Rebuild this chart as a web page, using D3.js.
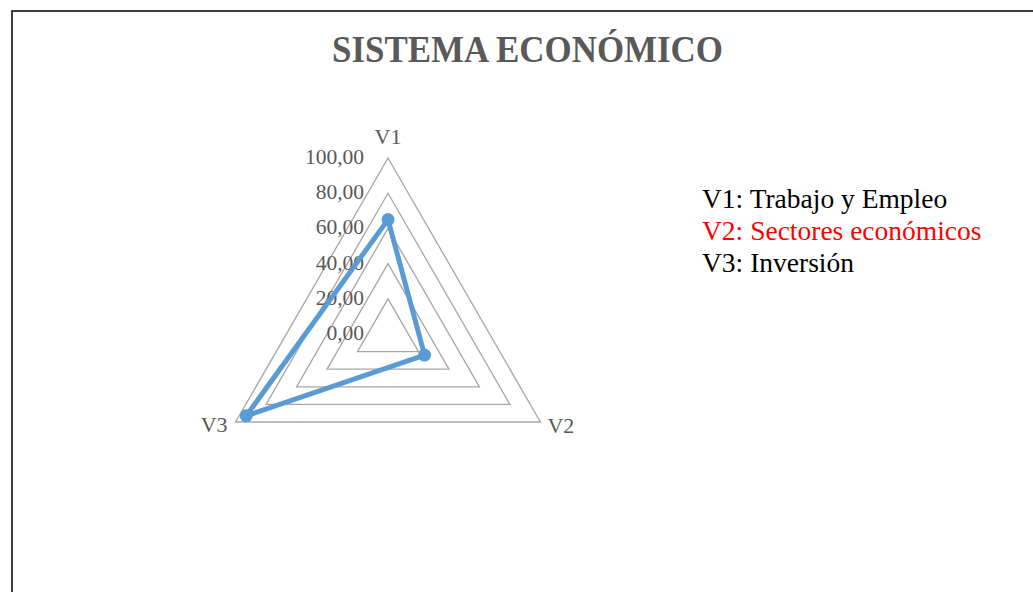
<!DOCTYPE html>
<html>
<head>
<meta charset="utf-8">
<script src="https://cdn.jsdelivr.net/npm/d3@7"></script>
<style>
  body { margin: 0; background: #fff; }
  svg { display: block; }
  text { font-family: "Liberation Serif", "Times New Roman", serif; }
</style>
</head>
<body>
<svg id="chart"></svg>
<script>
const axes = ["V1", "V2", "V3"];
const values = [65, 24, 93];
const ticks = [0, 20, 40, 60, 80, 100];
const legendItems = ["V1: Trabajo y Empleo", "V2: Sectores económicos", "V3: Inversión"];
const legendColors = ["#000", "#ff0000", "#000"];

const width = 1033, height = 592;
const cx = 388, cy = 334, R = 176;

const svg = d3.select("#chart")
    .attr("width", width)
    .attr("height", height);

// frame (top + left edge visible)
svg.append("path")
    .attr("d", `M12,${height} L12,11 L${width},11`)
    .attr("fill", "none")
    .attr("stroke", "#000")
    .attr("stroke-width", 1.5);

svg.append("text")
    .attr("x", 332)
    .attr("y", 62)
    .attr("textLength", 391)
    .attr("lengthAdjust", "spacingAndGlyphs")
    .style("font-size", "38px")
    .style("font-weight", "bold")
    .style("fill", "#595959")
    .text("SISTEMA ECONÓMICO");

const r = d3.scaleLinear().domain([0, 100]).range([0, R]);
const angle = i => -Math.PI / 2 + i * 2 * Math.PI / axes.length;
const pt = (i, v) => [cx + Math.cos(angle(i)) * r(v), cy + Math.sin(angle(i)) * r(v)];

const grid = svg.append("g")
    .attr("fill", "none")
    .attr("stroke", "#a6a6a6")
    .attr("stroke-width", 1.3);

grid.selectAll("path")
    .data(ticks.filter(t => t > 0))
    .join("path")
    .attr("d", t => d3.line()(axes.map((a, i) => pt(i, t))) + "Z");

svg.append("g")
    .selectAll("text")
    .data(ticks)
    .join("text")
    .attr("x", cx - 24)
    .attr("y", t => cy - r(t) + 6)
    .attr("text-anchor", "end")
    .style("font-size", "21.5px")
    .style("fill", "#595959")
    .text(t => d3.format(".2f")(t).replace(".", ","));

const labelPos = [
    { dx: 0, dy: -14, anchor: "middle" },
    { dx: 7, dy: 11, anchor: "start" },
    { dx: -8, dy: 10, anchor: "end" }
];
svg.append("g")
    .selectAll("text")
    .data(axes)
    .join("text")
    .attr("x", (d, i) => pt(i, 100)[0] + labelPos[i].dx)
    .attr("y", (d, i) => pt(i, 100)[1] + labelPos[i].dy)
    .attr("text-anchor", (d, i) => labelPos[i].anchor)
    .style("font-size", "22px")
    .style("fill", "#595959")
    .text(d => d);

const pts = values.map((v, i) => pt(i, v));
svg.append("path")
    .attr("d", d3.line()(pts) + "Z")
    .attr("fill", "none")
    .attr("stroke", "#5b9bd5")
    .attr("stroke-width", 5)
    .attr("stroke-linejoin", "round");

svg.append("g")
    .selectAll("circle")
    .data(pts)
    .join("circle")
    .attr("cx", d => d[0])
    .attr("cy", d => d[1])
    .attr("r", 6.5)
    .attr("fill", "#5b9bd5");

svg.append("g")
    .selectAll("text")
    .data(legendItems)
    .join("text")
    .attr("x", 702)
    .attr("y", (d, i) => 208 + i * 32)
    .style("font-size", "27.5px")
    .style("fill", (d, i) => legendColors[i])
    .text(d => d);
</script>
</body>
</html>
